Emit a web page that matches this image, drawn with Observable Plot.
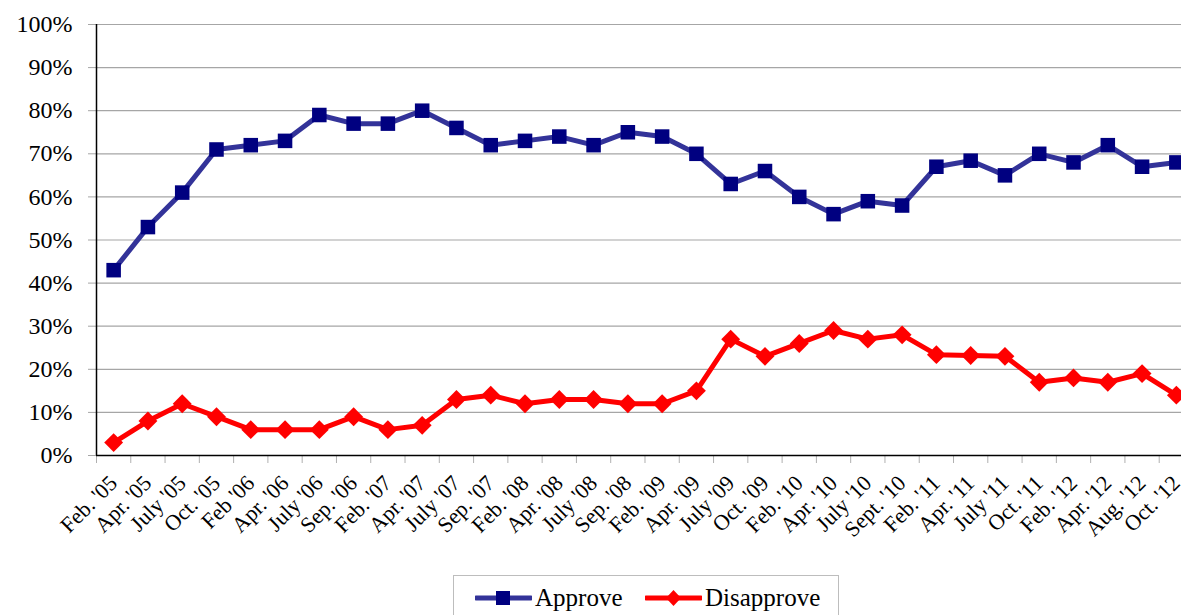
<!DOCTYPE html>
<html>
<head>
<meta charset="utf-8">
<script src="https://cdn.jsdelivr.net/npm/d3@7"></script>
<script src="https://cdn.jsdelivr.net/npm/@observablehq/plot@0.6"></script>
<style>
  html, body { margin: 0; padding: 0; background: #fff; overflow: hidden; }
  body { width: 1181px; height: 615px; font-family: "Liberation Serif", "Times New Roman", serif; }
  #legend {
    position: absolute; left: 453px; top: 575px; width: 386px; height: 60px;
    border: 1px solid #bdbdbd; box-sizing: border-box;
    font-family: "Liberation Serif", "Times New Roman", serif; font-size: 25px; color: #000;
  }
  .item { position: absolute; top: 8px; display: flex; align-items: center; }
  .item svg { margin-right: 3px; }
</style>
</head>
<body>
<div id="chart"></div>
<div id="legend">
  <div class="item" style="left:21px"><svg width="57" height="24"><line x1="1" x2="56" y1="12" y2="12" stroke="#333399" stroke-width="5" stroke-linecap="round"/><rect x="21" y="5" width="14" height="14" fill="#000080"/></svg><span>Approve</span></div>
  <div class="item" style="left:191px"><svg width="57" height="24"><line x1="1" x2="56" y1="12" y2="12" stroke="#ff0000" stroke-width="5" stroke-linecap="round"/><path d="M28.5,4 L36,12 L28.5,20 L21,12 Z" fill="#ff0000"/></svg><span>Disapprove</span></div>
</div>
<script>
const labels = ["Feb. '05","Apr. '05","July '05","Oct. '05","Feb '06","Apr. '06","July '06","Sep. '06","Feb. '07","Apr. '07","July '07","Sep. '07","Feb. '08","Apr. '08","July '08","Sep. '08","Feb. '09","Apr. '09","July '09","Oct. '09","Feb. '10","Apr. '10","July '10","Sept. '10","Feb. '11","Apr. '11","July '11","Oct. '11","Feb. '12","Apr. '12","Aug. '12","Oct. '12"];
const approve = [43,53,61,71,72,73,79,77,77,80,76,72,73,74,72,75,74,70,63,66,60,56,59,58,67,68.4,65,70,68,72,67,68];
const disapprove = [3,8,12,9,6,6,6,9,6,7,13,14,12,13,13,12,12,15,27,23,26,29,27,28,23.4,23.2,23,17,18,17,19,14];
const yTicks = [0,10,20,30,40,50,60,70,80,90,100];

const idx = labels.map((_, i) => i);
const approveData = idx.map(i => ({i, v: approve[i]}));
const disapproveData = idx.map(i => ({i, v: disapprove[i]}));
const bounds = idx.map(i => i - 0.5).concat([labels.length - 0.5]);

const chart = Plot.plot({
  width: 1181,
  height: 570,
  marginLeft: 96,
  marginRight: 0,
  marginTop: 24,
  marginBottom: 115,
  style: { fontFamily: "'Liberation Serif', 'Times New Roman', serif", background: "#fff", overflow: "visible" },
  x: { type: "linear", domain: [-0.5, labels.length - 0.85], label: null },
  y: { domain: [0, 100], label: null },
  marks: [
    Plot.gridY(yTicks, { stroke: "#a6a6a6", strokeOpacity: 1, strokeWidth: 1.2 }),
    Plot.axisY(yTicks, { tickFormat: d => d + "%", tickSize: 8, tickPadding: 16, stroke: "#a6a6a6", fontSize: 24, fill: "#000", label: null }),
    Plot.axisX(bounds, { tickSize: 8, tickFormat: () => "", stroke: "#b0b0b0", label: null }),
    Plot.axisX(idx, { tickSize: 0, tickFormat: i => labels[i], tickRotate: -45, tickPadding: 24, fontSize: 22, fill: "#000", dx: 0, label: null }),
    Plot.ruleX([-0.5], { stroke: "#000", strokeWidth: 1.5 }),
    Plot.ruleY([0], { stroke: "#000", strokeWidth: 1.5 }),
    Plot.line(approveData, { x: "i", y: "v", stroke: "#333399", strokeWidth: 5 }),
    Plot.dot(approveData, { x: "i", y: "v", symbol: "square", r: 8.2, fill: "#000080", stroke: "none" }),
    Plot.line(disapproveData, { x: "i", y: "v", stroke: "#ff0000", strokeWidth: 5 }),
    Plot.dot(disapproveData, { x: "i", y: "v", symbol: "diamond2", r: 8.5, fill: "#ff0000", stroke: "none" })
  ]
});
document.getElementById("chart").appendChild(chart);
</script>
</body>
</html>
